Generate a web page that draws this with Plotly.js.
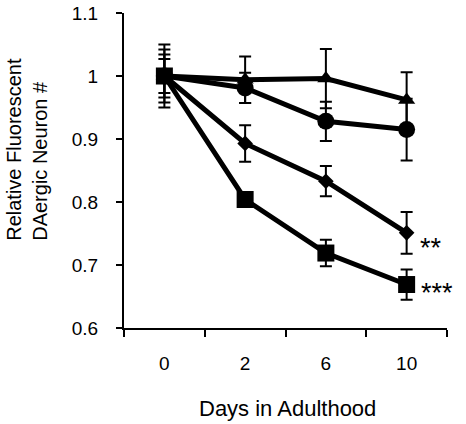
<!DOCTYPE html>
<html>
<head>
<meta charset="utf-8">
<script src="https://cdn.plot.ly/plotly-3.0.1.min.js"></script>
<style>html,body{margin:0;padding:0;background:#fff;}#chart{width:466px;height:424px;}</style>
</head>
<body>
<div id="chart"></div>
<script>
const days = ['0', '2', '6', '10'];
const triangleVals = [1.0, 0.994, 0.996, 0.962];
const triangleErr = [0.050, 0.037, 0.047, 0.044];
const circleVals = [1.0, 0.981, 0.928, 0.915];
const circleErr = [0.042, 0.024, 0.031, 0.049];
const diamondVals = [1.0, 0.893, 0.833, 0.751];
const diamondErr = [0.034, 0.029, 0.024, 0.033];
const squareVals = [1.0, 0.804, 0.719, 0.669];
const squareErr = [0.027, 0.006, 0.021, 0.024];
const sigLabels = ['**', '***'];

const FONT = 'Liberation Sans, Arial, sans-serif';

function series(vals, err, symbol, size) {
  return {
    type: 'scatter', mode: 'lines+markers',
    x: days, y: vals,
    line: {color: '#000', width: 5},
    marker: {symbol: symbol, size: size, color: '#000'},
    error_y: {type: 'data', array: err, visible: true, color: '#000', thickness: 2, width: 6},
    showlegend: false, cliponaxis: false
  };
}

const data = [
  series(squareVals, squareErr, 'square', 17),
  series(diamondVals, diamondErr, 'diamond', 12),
  series(circleVals, circleErr, 'circle', 17),
  series(triangleVals, triangleErr, 'triangle-up', 15)
];

const lastIdx = days.length - 1;

const layout = {
  width: 466, height: 424,
  margin: {l: 124, r: 19, t: 13, b: 96},
  paper_bgcolor: '#fff', plot_bgcolor: '#fff',
  font: {family: FONT, color: '#000'},
  xaxis: {
    type: 'category', range: [-0.5, 3.5],
    showline: true, linecolor: '#000', linewidth: 2,
    ticks: 'outside', tickson: 'boundaries', ticklen: 7, tickwidth: 2, tickcolor: '#000',
    showgrid: false, zeroline: false,
    tickfont: {size: 19, family: FONT}, ticklabelstandoff: 17
  },
  yaxis: {
    range: [0.6, 1.1], dtick: 0.1, tick0: 0.6,
    showline: true, linecolor: '#000', linewidth: 2,
    ticks: 'outside', ticklen: 6, tickwidth: 2, tickcolor: '#000',
    showgrid: false, zeroline: false,
    tickfont: {size: 19, family: FONT}, ticklabelstandoff: 14
  },
  annotations: [
    {xref: 'paper', yref: 'paper', x: -0.3, y: 0.566, xanchor: 'center', yanchor: 'middle',
     text: 'Relative Fluorescent<br>DAergic Neuron #', textangle: -90, align: 'left', showarrow: false,
     font: {size: 20, family: FONT}},
    {xref: 'paper', yref: 'paper', x: 0.505, y: -0.256, xanchor: 'center', yanchor: 'middle',
     text: 'Days in Adulthood', showarrow: false, font: {size: 22, family: FONT}},
    {x: lastIdx, y: diamondVals[lastIdx], xanchor: 'left', yanchor: 'middle', xshift: 11, yshift: -15,
     text: sigLabels[0], showarrow: false, font: {size: 27, family: FONT}},
    {x: lastIdx, y: squareVals[lastIdx], xanchor: 'left', yanchor: 'middle', xshift: 12, yshift: -8,
     text: sigLabels[1], showarrow: false, font: {size: 27, family: FONT}}
  ]
};

Plotly.newPlot('chart', data, layout, {displayModeBar: false, staticPlot: true});
</script>
</body>
</html>
